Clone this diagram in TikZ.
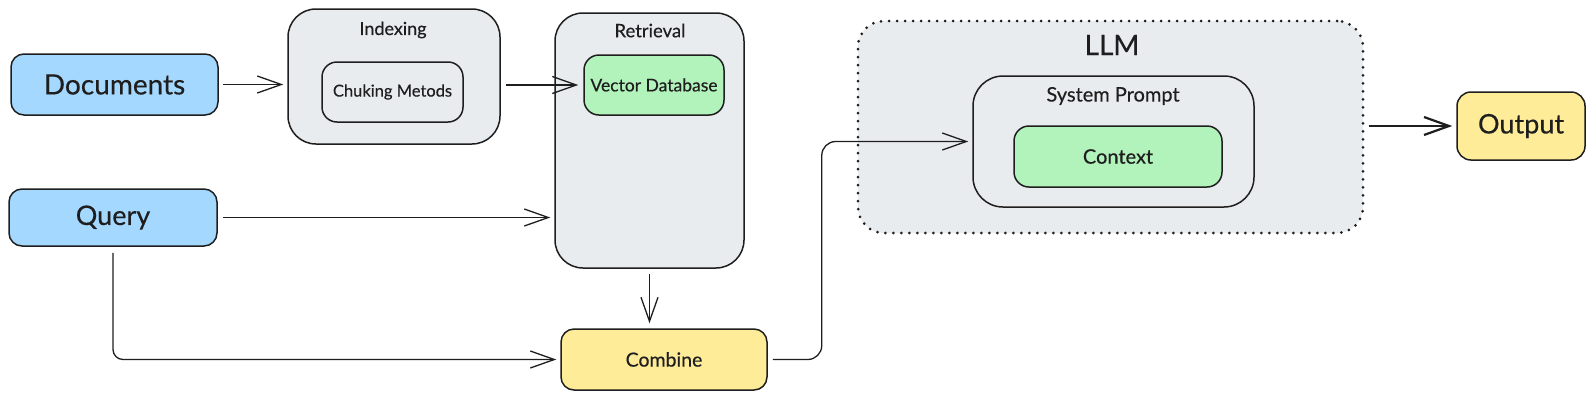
\documentclass[tikz,border=0pt]{standalone}
\usepackage{fontspec}
\setmainfont{Lato}[FakeBold=0.35]
\usetikzlibrary{arrows.meta,calc}
\definecolor{ink}{HTML}{1E1E1E}
\definecolor{bluef}{HTML}{A5D8FF}
\definecolor{grayf}{HTML}{E9ECEF}
\definecolor{greenf}{HTML}{B2F2BB}
\definecolor{yellowf}{HTML}{FFEC99}
\begin{document}
\begin{tikzpicture}[x=1pt,y=-1pt,
  box/.style={draw=ink, line width=1.5pt, inner sep=0pt, text=ink},
  lbl/.style={text=ink, inner sep=0pt},
  arr/.style={draw=ink, line width=1.3pt, -{Straight Barb[length=24pt,width=17pt]}},
  fs/.style={font=\fontsize{#1}{#1}\selectfont}]
\useasboundingbox (0,0) rectangle (1594,400);

% containers
\node[box, fill=grayf, rounded corners=28pt, minimum width=212pt, minimum height=135pt] (idx) at (394,76.5) {};
\node[lbl, fs=18] (idxl) at (393,30) {Indexing};
\node[box, fill=grayf, rounded corners=15pt, minimum width=141pt, minimum height=60pt, fs=16.5] (chunk) at (392.5,92) {Chuking Metods};

\node[box, fill=grayf, rounded corners=28pt, minimum width=189pt, minimum height=255pt] (ret) at (649.5,140.5) {};
\node[lbl, fs=18.5] (retl) at (650,30.5) {Retrieval};
\node[box, fill=greenf, rounded corners=15pt, minimum width=140pt, minimum height=60pt, fs=17.5] (vdb) at (654,85) {Vector Database};

\node[draw=ink, fill=grayf, line width=3pt, line cap=round, dash pattern=on 0pt off 8pt, rounded corners=26pt, inner sep=0pt, minimum width=505pt, minimum height=212pt] (llm) at (1110.5,127) {};
\node[lbl, fs=28] (llml) at (1112,45) {LLM};
\node[box, fill=grayf, rounded corners=30pt, minimum width=281pt, minimum height=131pt] (sp) at (1113.5,141.5) {};
\node[lbl, fs=20] (spl) at (1113,96) {System Prompt};
\node[box, fill=greenf, rounded corners=15pt, minimum width=208pt, minimum height=61pt, fs=20] (ctx) at (1118,156.5) {Context};

% inputs / outputs
\node[box, fill=bluef, rounded corners=13pt, minimum width=207pt, minimum height=61pt, fs=28] (doc) at (114.5,84.5) {Documents};
\node[box, fill=bluef, rounded corners=13pt, minimum width=208pt, minimum height=57pt, fs=27] (query) at (113,217.5) {Query};
\node[box, fill=yellowf, rounded corners=13pt, minimum width=206pt, minimum height=61pt, fs=19.5] (comb) at (664,359.5) {Combine};
\node[box, fill=yellowf, rounded corners=14pt, minimum width=128pt, minimum height=68pt, fs=27] (out) at (1521,126) {Output};

% connectors
\draw[arr, shorten <=4pt, shorten >=4pt] (doc.east) -- (doc.east -| idx.west);
\draw[arr, shorten <=5pt, shorten >=5pt] (idx.east |- vdb.west) -- (vdb.west);
\draw[arr, shorten <=5pt, shorten >=4pt] (query.east) -- (query.east -| ret.west);
\draw[arr, shorten <=5pt, shorten >=5pt] (ret.south) -- (ret.south |- comb.north);
\draw[arr, rounded corners=10pt, shorten <=6pt, shorten >=4pt] (query.south) |- (comb.west);
\draw[arr, rounded corners=14pt, shorten <=5pt, shorten >=4pt] (comb.east) -- ++(54,0) |- (sp.west);
\draw[draw=ink, line width=2.2pt, -{Straight Barb[length=25pt,width=18pt]}, shorten <=4pt, shorten >=4pt] (llm.east |- out.west) -- (out.west);
\end{tikzpicture}
\end{document}
